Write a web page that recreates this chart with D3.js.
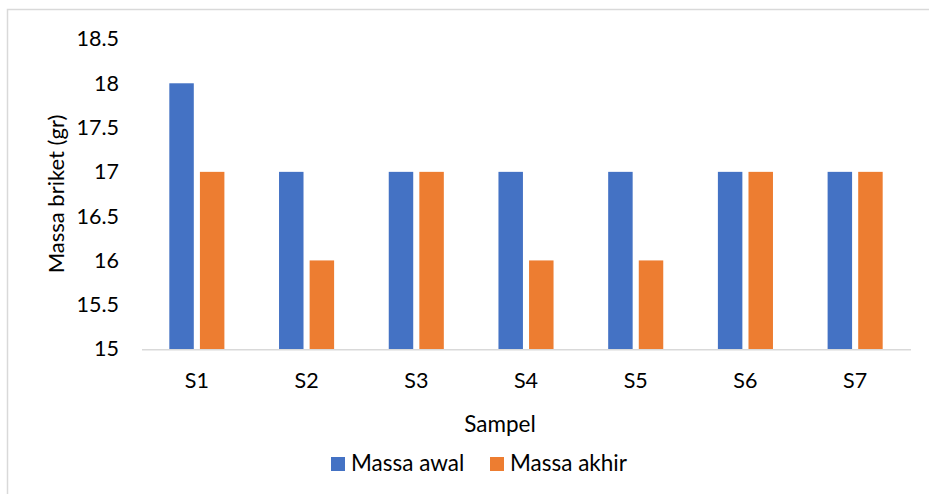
<!DOCTYPE html>
<html>
<head>
<meta charset="utf-8">
<script src="https://cdn.jsdelivr.net/npm/d3@7"></script>
<style>
  html, body { margin: 0; padding: 0; background: #fff; }
  svg text { font-family: Lato, "Open Sans", sans-serif; fill: #000; }
</style>
</head>
<body>
<svg id="chart" width="929" height="494"></svg>
<script>
// Sample categories and the two measured series (grams)
const categories = ["S1", "S2", "S3", "S4", "S5", "S6", "S7"];
const massaAwal = [18, 17, 17, 17, 17, 17, 17];
const massaAkhir = [17, 16, 17, 16, 16, 17, 17];
const seriesNames = ["Massa awal", "Massa akhir"];
const yTicks = [15, 15.5, 16, 16.5, 17, 17.5, 18, 18.5];

const colors = { "Massa awal": "#4472C4", "Massa akhir": "#ED7D31" };

const svg = d3.select("#chart");

// outer chart frame
svg.append("rect")
  .attr("x", 7.5).attr("y", 9.5)
  .attr("width", 940).attr("height", 500)
  .attr("fill", "none")
  .attr("stroke", "#d9d9d9")
  .attr("stroke-width", 1.5);

const plot = { left: 142, right: 910, top: 39, bottom: 349 };

const x0 = d3.scaleBand()
  .domain(categories)
  .range([plot.left, plot.right])
  .padding(0);

const x1 = d3.scaleBand()
  .domain(seriesNames)
  .range([x0.bandwidth() * 0.249, x0.bandwidth() * 0.751])
  .paddingInner(0.2);

const y = d3.scaleLinear()
  .domain([15, 18.5])
  .range([plot.bottom, plot.top]);

const rows = categories.map((c, i) => ({
  cat: c,
  values: [
    { key: "Massa awal", value: massaAwal[i] },
    { key: "Massa akhir", value: massaAkhir[i] }
  ]
}));

// bars
const groups = svg.append("g").selectAll("g")
  .data(rows)
  .join("g")
  .attr("transform", d => `translate(${x0(d.cat)},0)`);

groups.selectAll("rect")
  .data(d => d.values)
  .join("rect")
  .attr("x", d => x1(d.key))
  .attr("width", x1.bandwidth())
  .attr("y", d => y(d.value))
  .attr("height", d => y(15) - y(d.value))
  .attr("fill", d => colors[d.key]);

// category axis baseline
svg.append("line")
  .attr("x1", plot.left).attr("x2", plot.right + 1)
  .attr("y1", y(15) + 0.75).attr("y2", y(15) + 0.75)
  .attr("stroke", "#d9d9d9")
  .attr("stroke-width", 1.5);

// y axis (labels only)
const yAxis = d3.axisLeft(y)
  .tickValues(yTicks)
  .tickFormat(d => String(d))
  .tickSize(0)
  .tickPadding(0);

const gy = svg.append("g")
  .attr("transform", `translate(119,0)`)
  .call(yAxis);
gy.select(".domain").remove();
gy.selectAll("text")
  .attr("font-size", 21.5)
  .attr("font-family", "Lato, sans-serif")
  .attr("fill", "#000");

// x axis labels
const xAxis = d3.axisBottom(x0).tickSize(0).tickPadding(0);
const gx = svg.append("g")
  .attr("transform", `translate(0,${plot.bottom + 24})`)
  .call(xAxis);
gx.select(".domain").remove();
gx.selectAll("text")
  .attr("font-size", 21.5)
  .attr("font-family", "Lato, sans-serif")
  .attr("fill", "#000");

// axis titles
svg.append("text")
  .attr("x", 500).attr("y", 432)
  .attr("text-anchor", "middle")
  .attr("font-size", 22.5)
  .text("Sampel");

svg.append("text")
  .attr("transform", `translate(64,${(plot.top + plot.bottom) / 2}) rotate(-90)`)
  .attr("text-anchor", "middle")
  .attr("font-size", 22)
  .text("Massa briket (gr)");

// legend
const legend = svg.append("g");
const legendItems = [
  { key: "Massa awal", x: 331 },
  { key: "Massa akhir", x: 490 }
];
legendItems.forEach(it => {
  legend.append("rect")
    .attr("x", it.x).attr("y", 457)
    .attr("width", 14).attr("height", 14)
    .attr("fill", colors[it.key]);
  legend.append("text")
    .attr("x", it.x + 20).attr("y", 471)
    .attr("font-size", 22.5)
    .text(it.key);
});
</script>
</body>
</html>
